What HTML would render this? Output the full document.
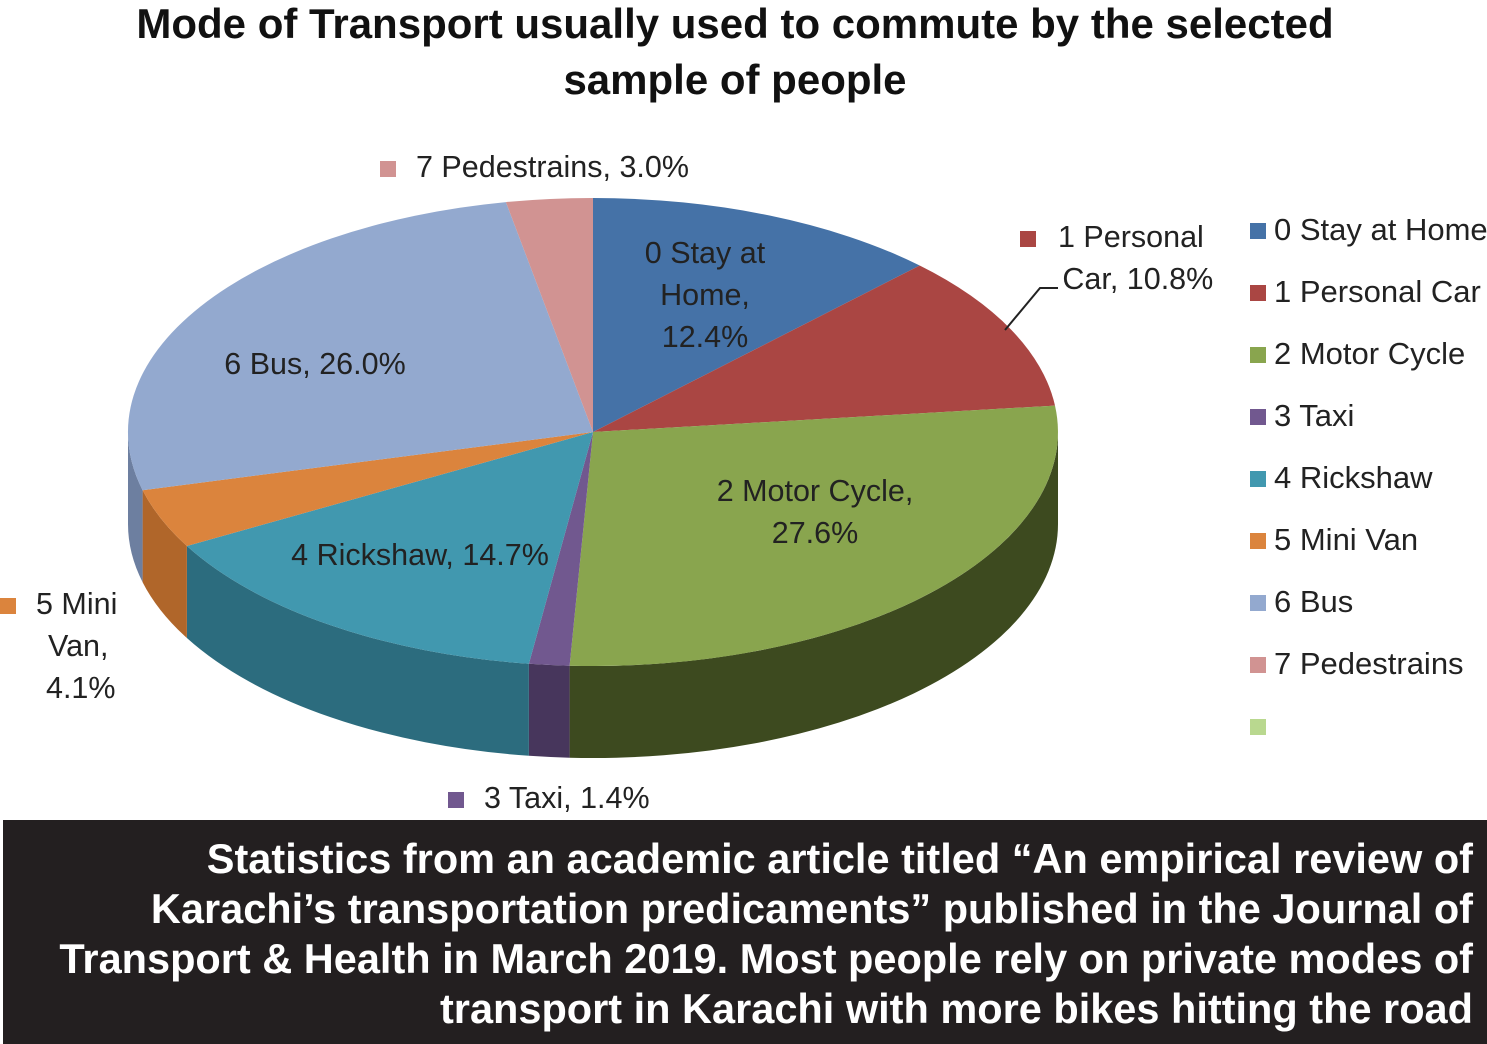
<!DOCTYPE html>
<html><head><meta charset="utf-8"><style>
body{margin:0;width:1487px;height:1044px;background:#fff;overflow:hidden;position:relative;font-family:"Liberation Sans",sans-serif}
.t{position:absolute;left:0;width:1470px;text-align:center;font-weight:bold;font-size:42px;color:#111}
.lab{position:absolute;font-size:30.5px;color:#222;text-align:center;line-height:42px}
.lg{position:absolute;left:1250px;font-size:31px;color:#222;white-space:nowrap}
.lg i{display:inline-block;width:16px;height:16px;margin-right:8px;vertical-align:1px}
#box{position:absolute;left:3px;top:820px;width:1484px;height:224px;background:#231f20;color:#fff;font-weight:bold;font-size:41.5px;text-align:right;line-height:50px;box-sizing:border-box;padding:14px 14px 0 0;white-space:nowrap}
</style></head><body>
<div class="t" style="top:0px">Mode of Transport usually used to commute by the selected</div>
<div class="t" style="top:56px">sample of people</div>
<svg id="s" width="1487" height="820" style="position:absolute;left:0;top:0"></svg>
<div class="lab" style="left:380px;top:146px;text-align:left;white-space:nowrap"><span style="display:inline-block;width:16px;height:16px;background:#d19392;margin-right:20px"></span>7 Pedestrains, 3.0%</div>
<div class="lab" style="left:1020px;top:216px;text-align:left;white-space:nowrap"><span style="display:inline-block;width:16px;height:16px;background:#aa4643;margin-right:22px"></span>1 Personal<br>&nbsp;&nbsp;&nbsp;&nbsp;&nbsp;Car, 10.8%</div>
<div class="lab" style="left:620px;top:232px;width:170px">0 Stay at<br>Home,<br>12.4%</div>
<div class="lab" style="left:190px;top:343px;width:250px">6 Bus, 26.0%</div>
<div class="lab" style="left:670px;top:470px;width:290px">2 Motor Cycle,<br>27.6%</div>
<div class="lab" style="left:260px;top:534px;width:320px">4 Rickshaw, 14.7%</div>
<div class="lab" style="left:0;top:583px;width:140px;text-align:left;white-space:nowrap"><span style="display:inline-block;width:16px;height:16px;background:#db843d;margin-right:20px"></span>5 Mini<br><span style="padding-left:48px">Van,</span><br><span style="padding-left:46px">4.1%</span></div>
<div class="lab" style="left:448px;top:777px;text-align:left;white-space:nowrap"><span style="display:inline-block;width:16px;height:16px;background:#71588f;margin-right:20px"></span>3 Taxi, 1.4%</div>
<div class="lg" style="top:212px"><i style="background:#4572a7"></i>0 Stay at Home</div>
<div class="lg" style="top:274px"><i style="background:#aa4643"></i>1 Personal Car</div>
<div class="lg" style="top:336px"><i style="background:#89a54e"></i>2 Motor Cycle</div>
<div class="lg" style="top:398px"><i style="background:#71588f"></i>3 Taxi</div>
<div class="lg" style="top:460px"><i style="background:#4198af"></i>4 Rickshaw</div>
<div class="lg" style="top:522px"><i style="background:#db843d"></i>5 Mini Van</div>
<div class="lg" style="top:584px"><i style="background:#93a9cf"></i>6 Bus</div>
<div class="lg" style="top:646px"><i style="background:#d19392"></i>7 Pedestrains</div>
<div class="lg" style="top:708px"><i style="background:#b9d88f"></i></div>
<div id="box">Statistics from an academic article titled “An empirical review of<br>Karachi’s transportation predicaments” published in the Journal of<br>Transport &amp; Health in March 2019. Most people rely on private modes of<br>transport in Karachi with more bikes hitting the road</div>
<script>
(function(){
var cx=593,cy=432,rx=465,ry=234,d=92;
var p=[12.4,10.8,27.6,1.4,14.7,4.1,26.0,3.0];
var tc=["#4572a7","#aa4643","#89a54e","#71588f","#4198af","#db843d","#93a9cf","#d19392"];
var sc=["#2f4f75","#7a302e","#3d4a1f","#47365c","#2c6c7e","#b0662a","#6d7fa0","#a06a69"];
function pt(a,o){a=a*Math.PI/180;return [(cx+rx*Math.sin(a)).toFixed(1),(cy+o-ry*Math.cos(a)).toFixed(1)];}
var s="",t="",c=0;
for(var i=0;i<p.length;i++){
 var a1=c*3.6,a2=(c+p[i])*3.6;c+=p[i];
 var b1=Math.max(a1,90),b2=Math.min(a2,270);
 if(b2>b1){var A=pt(b1,0),B=pt(b2,0),C=pt(b2,d),D=pt(b1,d);
  s+='<path d="M'+A+' A'+rx+' '+ry+' 0 0 1 '+B+' L'+C+' A'+rx+' '+ry+' 0 0 0 '+D+' Z" fill="'+sc[i]+'"/>';}
 var P=pt(a1,0),Q=pt(a2,0),lg=(a2-a1)>180?1:0;
 t+='<path d="M'+cx+','+cy+' L'+P+' A'+rx+' '+ry+' 0 '+lg+' 1 '+Q+' Z" fill="'+tc[i]+'"/>';
}
t+='<polyline points="1005,330 1040,288 1058,288" fill="none" stroke="#222" stroke-width="2"/>';
document.getElementById("s").innerHTML=s+t;
})();
</script>
</body></html>
